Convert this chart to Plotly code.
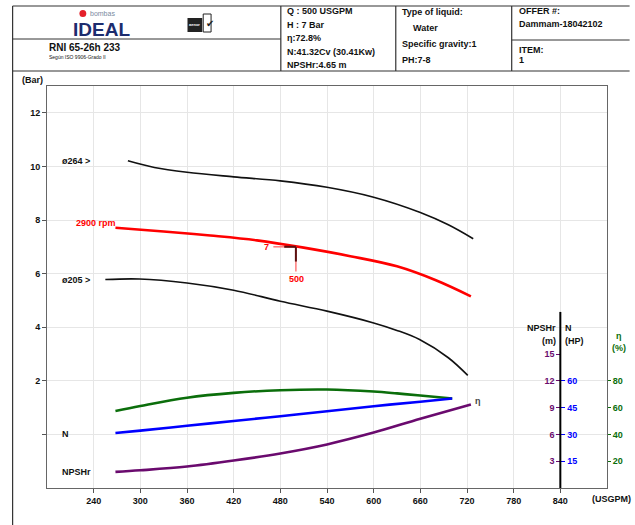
import plotly.graph_objects as go

# ---------------- data ----------------
q_264 = [284, 318, 360, 420, 480, 540, 600, 660, 696, 728]
h_264 = [10.21, 9.96, 9.78, 9.61, 9.46, 9.22, 8.85, 8.28, 7.82, 7.30]

q_2900 = [268, 330, 390, 450, 510, 570, 630, 680, 725]
h_2900 = [7.71, 7.57, 7.42, 7.24, 6.97, 6.65, 6.27, 5.75, 5.15]

q_205 = [255, 299, 360, 420, 480, 540, 600, 629, 659, 696, 721]
h_205 = [5.78, 5.80, 5.65, 5.38, 4.97, 4.60, 4.16, 3.89, 3.54, 2.86, 2.20]

q_eta = [268, 300, 360, 420, 480, 540, 600, 630, 660, 701]
eta = [57.5, 61.2, 67.4, 71.0, 73.0, 73.5, 72.0, 70.6, 69.0, 66.8]

q_n = [268, 300, 360, 420, 480, 540, 600, 660, 701]
n_hp = [30.8, 32.1, 34.8, 37.5, 40.2, 43.0, 45.8, 48.3, 50.1]

q_npsh = [268, 300, 360, 420, 480, 540, 600, 660, 725]
npsh_m = [1.80, 1.98, 2.40, 3.07, 3.87, 4.88, 6.20, 7.75, 9.35]

OP_Q = 500
OP_H = 7

x_ticks = [240, 300, 360, 420, 480, 540, 600, 660, 720, 780, 840]
y_ticks = [0, 2, 4, 6, 8, 10, 12]
y_ticktext = ["", "2", "4", "6", "8", "10", "12"]
eta_ticks = [20, 40, 60, 80]
npsh_ticks = [3, 6, 9, 12, 15]
n_ticks = [15, 30, 45, 60]

# ---------------- layout helpers ----------------
W, H = 635, 525
ML, MR, MT, MB = 47, 18, 86, 37
PW, PH = W - ML - MR, H - MT - MB


def px(x):
    return (x - ML) / PW


def py(y):
    return (H - MB - y) / PH


FONT = "Liberation Sans"
BLACK = "#111111"
GREEN = "#0b6e0b"
BLUE = "#0000ff"
PURPLE = "#6a0a6e"
RED = "#ff0000"

fig = go.Figure()

fig.add_trace(go.Scatter(x=q_264, y=h_264, mode="lines", line=dict(color=BLACK, width=1.6, shape="spline"), yaxis="y"))
fig.add_trace(go.Scatter(x=q_205, y=h_205, mode="lines", line=dict(color=BLACK, width=1.6, shape="spline"), yaxis="y"))
fig.add_trace(go.Scatter(x=q_2900, y=h_2900, mode="lines", line=dict(color=RED, width=2.6, shape="spline"), yaxis="y"))
fig.add_trace(go.Scatter(x=q_eta, y=eta, mode="lines", line=dict(color=GREEN, width=2.6, shape="spline"), yaxis="y2"))
fig.add_trace(go.Scatter(x=q_npsh, y=npsh_m, mode="lines", line=dict(color=PURPLE, width=2.6, shape="spline"), yaxis="y3"))
fig.add_trace(go.Scatter(x=q_n, y=n_hp, mode="lines", line=dict(color=BLUE, width=2.6, shape="spline"), yaxis="y4"))

# operating point marker
fig.add_trace(go.Scatter(x=[OP_Q - 29, OP_Q], y=[OP_H, OP_H], mode="lines", line=dict(color="#ff7a7a", width=1.5)))
fig.add_trace(go.Scatter(x=[OP_Q, OP_Q], y=[OP_H, OP_H - 0.92], mode="lines", line=dict(color="#ff7a7a", width=1.5)))
fig.add_trace(go.Scatter(x=[OP_Q - 15, OP_Q], y=[OP_H, OP_H], mode="lines", line=dict(color="#5a1010", width=2)))
fig.add_trace(go.Scatter(x=[OP_Q, OP_Q], y=[OP_H, OP_H - 0.55], mode="lines", line=dict(color="#5a1010", width=2)))

tickfont = dict(family=FONT, size=9, color=BLACK, weight="bold")

fig.update_layout(
    width=W, height=H,
    margin=dict(l=ML, r=MR, t=MT, b=MB, pad=0),
    paper_bgcolor="white", plot_bgcolor="white",
    showlegend=False,
    xaxis=dict(range=[180, 900], tickvals=x_ticks, ticks="outside", ticklen=4, tickcolor="#555",
               showgrid=True, gridcolor="#e6e6e6", gridwidth=1, zeroline=False,
               showline=True, linecolor="#666", linewidth=1, mirror=True, tickfont=tickfont),
    yaxis=dict(range=[-2, 13], tickvals=y_ticks, ticktext=y_ticktext, ticks="outside", ticklen=4,
               tickcolor="#555", showgrid=True, gridcolor="#e6e6e6", gridwidth=1, zeroline=False,
               showline=True, linecolor="#666", linewidth=1, mirror=True, tickfont=tickfont),
    yaxis2=dict(overlaying="y", side="right", anchor="x", range=[0, 300], tickvals=eta_ticks,
                ticks="outside", ticklen=3, tickcolor=GREEN, showgrid=False, zeroline=False,
                showline=False, tickfont=dict(family=FONT, size=9, color=GREEN, weight="bold")),
    yaxis3=dict(overlaying="y", side="left", anchor="free", position=(840 - 180) / 720,
                range=[0, 45], tickvals=npsh_ticks, ticks="outside", ticklen=4, tickcolor=PURPLE,
                showgrid=False, zeroline=False, showline=False,
                tickfont=dict(family=FONT, size=9, color=PURPLE, weight="bold")),
    yaxis4=dict(overlaying="y", side="right", anchor="free", position=(840 - 180) / 720,
                range=[0, 225], tickvals=n_ticks, ticks="outside", ticklen=4, tickcolor=BLUE,
                showgrid=False, zeroline=False, showline=False,
                tickfont=dict(family=FONT, size=9, color=BLUE, weight="bold")),
)

shapes = []


def hline(x0, x1, y, color="#333", w=1.2):
    shapes.append(dict(type="line", xref="paper", yref="paper", x0=px(x0), x1=px(x1), y0=py(y), y1=py(y),
                       line=dict(color=color, width=w)))


def vline(x, y0, y1, color="#333", w=1.2):
    shapes.append(dict(type="line", xref="paper", yref="paper", x0=px(x), x1=px(x), y0=py(y0), y1=py(y1),
                       line=dict(color=color, width=w)))


# header frame
hline(12, 640, 6)
hline(12, 640, 71)
vline(12, 6, 525)
vline(285, 6, 71)
vline(402, 6, 71)
vline(520, 6, 71)
hline(12, 285, 39, w=1)
hline(520, 640, 40, w=1)

# vertical axis line for NPSHr / N scales
shapes.append(dict(type="line", xref="x", yref="y", x0=840, x1=840, y0=-2, y1=4.57,
                   line=dict(color="black", width=2)))

# logo elements
shapes.append(dict(type="circle", xref="paper", yref="paper", x0=px(80), x1=px(87), y0=py(17), y1=py(10),
                   fillcolor="#e4202a", line=dict(width=0)))
shapes.append(dict(type="rect", xref="paper", yref="paper", x0=px(190), x1=px(205), y0=py(32), y1=py(18),
                   fillcolor="#222", line=dict(width=0)))
shapes.append(dict(type="rect", xref="paper", yref="paper", x0=px(206), x1=px(214), y0=py(32), y1=py(14),
                   fillcolor="white", line=dict(color="#222", width=1)))

fig.update_layout(shapes=shapes)

ann = []


def text(x, y, s, size=9, color=BLACK, bold=True, xanchor="left", family=FONT):
    ann.append(dict(xref="paper", yref="paper", x=px(x), y=py(y), text=s, showarrow=False,
                    xanchor=xanchor, yanchor="middle",
                    font=dict(family=family, size=size, color=color, weight="bold" if bold else "normal")))


# header texts
text(289, 11, "Q : 500 USGPM")
text(289, 25, "H : 7 Bar")
text(289, 38, "η:72.8%")
text(289, 52, "N:41.32Cv (30.41Kw)")
text(289, 65, "NPSHr:4.65 m")
text(406, 12, "Type of liquid:")
text(418, 28, "Water")
text(406, 44, "Specific gravity:1")
text(406, 60, "PH:7-8")
text(525, 11, "OFFER #:")
text(525, 24, "Dammam-18042102")
text(525, 50, "ITEM:")
text(525, 60, "1")
text(47, 47, "RNI 65-26h 233", size=10)
text(47, 57, "Según ISO 9906-Grado II", size=5, bold=False)
text(89, 13, "bombas", size=7, color="#7a8aa0", bold=False)
text(71, 30, "IDEAL", size=19, color="#1c2c6e")
text(207, 23, "✔", size=10, color="#222", bold=False, family="DejaVu Sans")
text(197, 25, "aenor", size=4, color="white", xanchor="center")

# chart labels
text(20, 80, "(Bar)")
text(600, 499, "(USGPM)")
text(60, 161, "ø264 >")
text(60, 280, "ø205 >")
text(119, 223, "2900 rpm", color=RED, xanchor="right")
text(60, 434, "N")
text(60, 472, "NPSHr")
text(481, 401, "η", size=9, color="#444")

# operating point labels
ann.append(dict(xref="x", yref="y", x=OP_Q - 32, y=OP_H, text=str(OP_H), showarrow=False, xanchor="right",
                yanchor="middle", font=dict(family=FONT, size=9, color=RED, weight="bold")))
ann.append(dict(xref="x", yref="y", x=OP_Q + 1, y=OP_H - 1.2, text=str(OP_Q), showarrow=False, xanchor="center",
                yanchor="middle", font=dict(family=FONT, size=9, color=RED, weight="bold")))

# right scale headers
text(567, 328, "NPSHr", xanchor="right")
text(572, 328, "N")
text(567, 341, "(m)", xanchor="right")
text(572, 341, "(HP)")
text(629, 336, "η", color=GREEN, xanchor="center")
text(629, 348, "(%)", color=GREEN, xanchor="center")

fig.update_layout(annotations=ann)

fig.write_html("out.html")
